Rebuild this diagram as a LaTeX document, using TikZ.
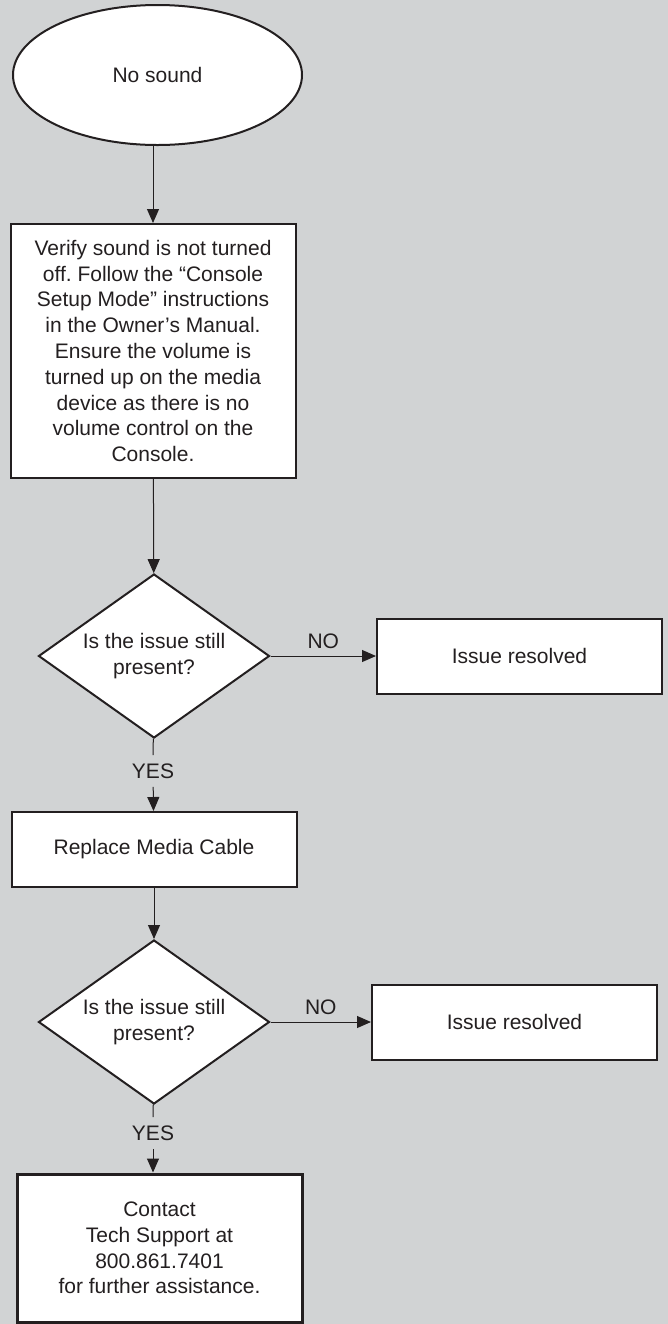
\documentclass[tikz,border=0pt]{standalone}
\usepackage{fontspec}
\setmainfont{Liberation Sans}
\usetikzlibrary{%
  arrows.meta,%
  shapes.geometric%
}
\definecolor{panel}{RGB}{209,211,212}
\definecolor{ink}{RGB}{35,31,32}
\frenchspacing

\begin{document}
\begin{tikzpicture}[x=0.5pt,y=-0.5pt,
    every node/.style={font=\fontsize{10.5}{12.9}\selectfont,text=ink},
    >={Triangle[length=7pt,width=6pt]},
    stepbox/.style={draw=ink,line width=1pt,fill=white,inner sep=0pt,
      minimum width=142.5pt,minimum height=37.5pt,align=center},
    decision/.style={diamond,draw=ink,line width=1pt,fill=white,inner sep=0pt,
      aspect=1.4,minimum width=115.5pt,minimum height=82pt,align=center},
    flow/.style={draw=ink,line width=0.5pt}]
    \fill[panel] (0,0) rectangle (668,1324);
    % main column
    \node[ellipse,draw=ink,line width=1pt,fill=white,minimum width=144.5pt,
      minimum height=70pt] (start) at (157.5,75) {No sound};
    \node[stepbox,minimum height=127pt] (verify) at (153,351)
    {Verify sound is not turned\\off. Follow the “Console\\Setup Mode” instructions\\
      in the Owner’s Manual.\\Ensure the volume is\\turned up on the media\\
      device as there is no\\volume control on the\\Console.};
    \node[decision] (q1) at (154,656) {Is the issue still\\present?};
    \node[stepbox] (res1) at (519.5,656) {Issue resolved};
    \node[inner sep=4pt] (yes1) at (153,771) {YES};
    \node[stepbox] (replace) at (154,849.5) {Replace Media Cable};
    \node[decision] (q2) at (154,1022) {Is the issue still\\present?};
    \node[stepbox] (res2) at (514.5,1022) {Issue resolved};
    \node[inner sep=4pt] (yes2) at (153,1133) {YES};
    \node[stepbox,line width=1.5pt,minimum height=74pt] (contact) at (159.5,1248)
    {Contact\\Tech Support at\\800.861.7401\\for further assistance.};
    % connectors
    \draw[flow,->] (verify.north |- start.south) -- (verify);
    \draw[flow,->] (verify) -- (q1);
    \draw[flow,->] (q1) -- node[above] {NO} (res1);
    \draw[flow] (q1) -- (yes1);
    \draw[flow,->] (yes1) -- (replace);
    \draw[flow,->] (replace) -- (q2);
    \draw[flow,->] (q2) -- node[above] {NO} (res2);
    \draw[flow] (q2) -- (yes2);
    \draw[flow,->] (yes2) -- (yes2 |- contact.north);
\end{tikzpicture}
\end{document}
